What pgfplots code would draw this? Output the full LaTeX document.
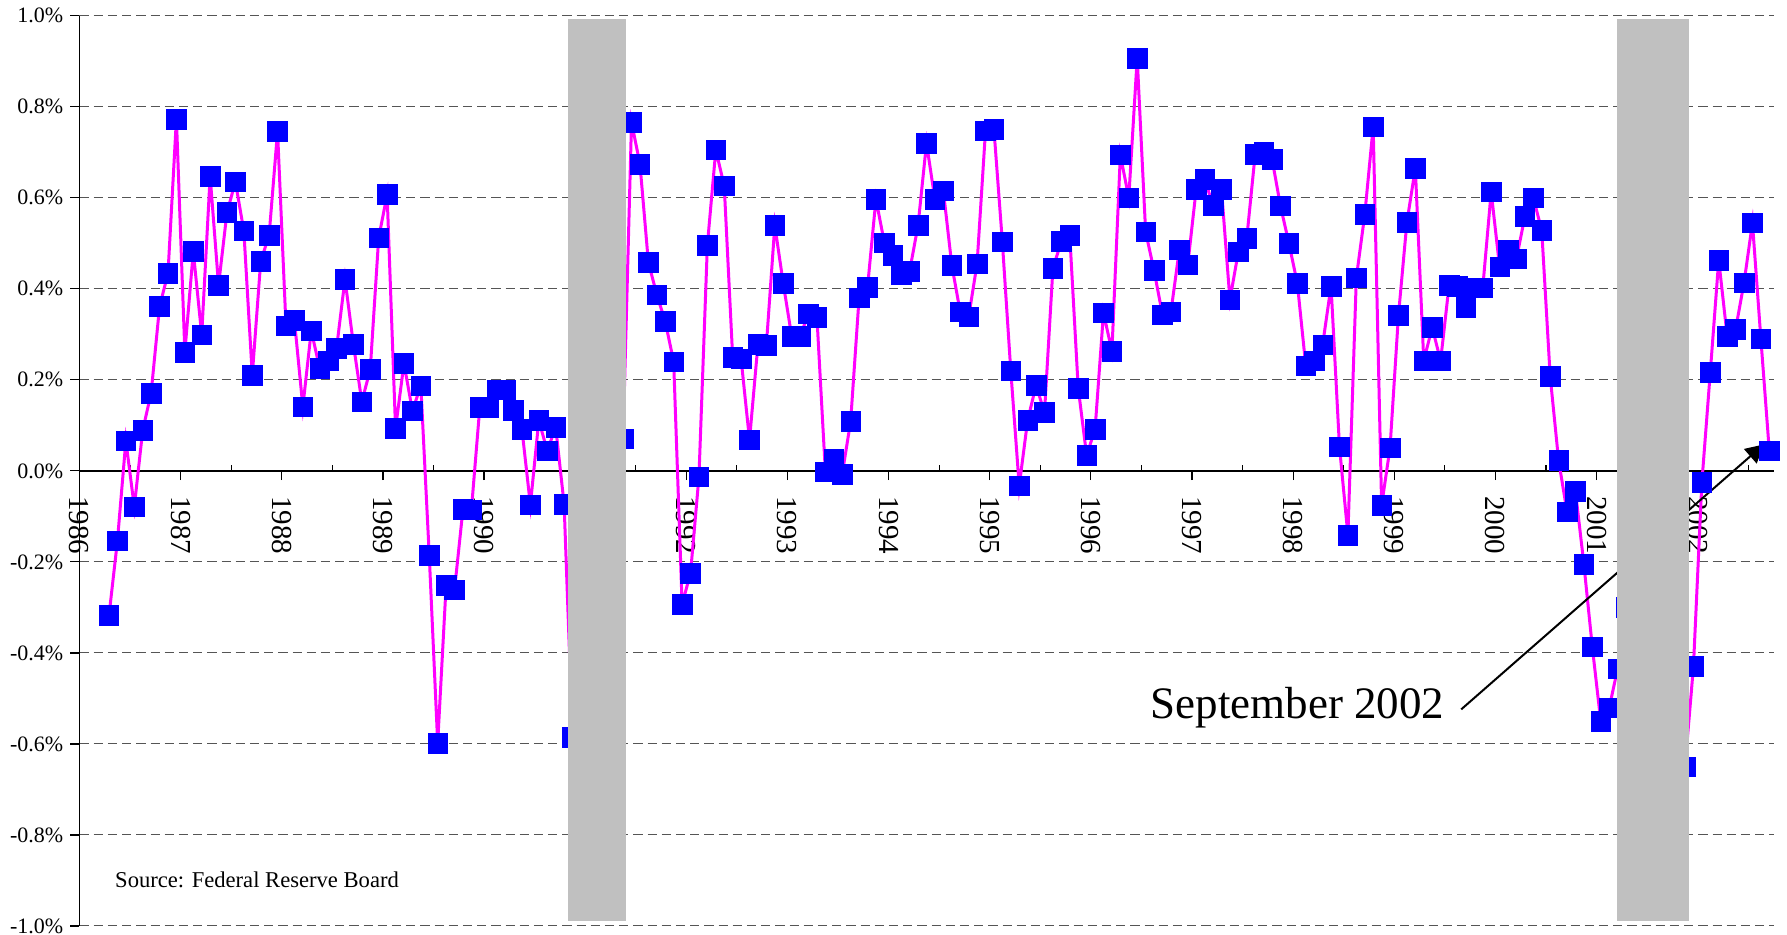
\documentclass[border=0pt]{standalone}
\usepackage{fontspec}
\setmainfont{Liberation Serif}
\usepackage{pgfplots}
\pgfplotsset{compat=1.18}
\usetikzlibrary{arrows.meta}

\definecolor{recession}{RGB}{192,192,192}
\definecolor{gridgray}{RGB}{85,85,85}
\definecolor{linemag}{RGB}{255,0,255}
\definecolor{markblue}{RGB}{0,0,255}

\begin{document}
\begin{tikzpicture}
\begin{axis}[
    scale only axis,
    width=847pt, height=455.15pt,
    xmin=0, xmax=201, ymin=-1, ymax=1,
    clip=false,
    axis x line=middle, axis y line=left,
    axis line style={-, line width=0.7pt, black},
    hide obscured x ticks=false, hide obscured y ticks=false,
    tick align=outside,
    major tick length=4.6pt, minor tick length=2.9pt,
    tick style={black, line width=0.6pt},
    minor x tick style={yshift=2.9pt},
    xtick={0,12,24,36,48,60,72,84,96,108,120,132,144,156,168,180,192},
    xticklabels={1986,1987,1988,1989,1990,1991,1992,1993,1994,1995,1996,1997,1998,1999,2000,2001,2002},
    minor xtick={6,18,30,42,54,66,78,90,102,114,126,138,150,162,174,186,198},
    xticklabel shift=8pt,
    xticklabel style={rotate=-90, anchor=west, inner sep=0pt, font=\fontsize{14.5}{16}\selectfont},
    ytick={-1,-0.8,-0.6,-0.4,-0.2,0,0.2,0.4,0.6,0.8,1},
    yticklabels={-1.0\%,-0.8\%,-0.6\%,-0.4\%,-0.2\%,0.0\%,0.2\%,0.4\%,0.6\%,0.8\%,1.0\%},
    yticklabel style={font=\fontsize{11}{13}\selectfont},
    ymajorgrids,
    major grid style={gridgray, line width=0.5pt, dash pattern=on 4.6pt off 2.5pt},
]

% monthly change, Apr 1986 - Sep 2002; x = month index + 0.5 (Jan 1986 = 0)
\addplot[linemag, line width=1.5pt, mark=square*, mark size=4.9pt,
         mark options={fill=markblue, draw=markblue, line width=0.3pt, solid}]
coordinates {
(3.5,-0.318) (4.5,-0.154) (5.5,0.066) (6.5,-0.079) (7.5,0.089) (8.5,0.171)
(9.5,0.361) (10.5,0.434) (11.5,0.773) (12.5,0.261) (13.5,0.482) (14.5,0.299)
(15.5,0.647) (16.5,0.408) (17.5,0.568) (18.5,0.635) (19.5,0.527) (20.5,0.210)
(21.5,0.460) (22.5,0.518) (23.5,0.746) (24.5,0.319) (25.5,0.331) (26.5,0.141)
(27.5,0.308) (28.5,0.225) (29.5,0.242) (30.5,0.269) (31.5,0.421) (32.5,0.278)
(33.5,0.152) (34.5,0.223) (35.5,0.512) (36.5,0.607) (37.5,0.093) (38.5,0.236)
(39.5,0.132) (40.5,0.187) (41.5,-0.186) (42.5,-0.598) (43.5,-0.252) (44.5,-0.261)
(45.5,-0.084) (46.5,-0.086) (47.5,0.140) (48.5,0.139) (49.5,0.178) (50.5,0.178)
(51.5,0.133) (52.5,0.091) (53.5,-0.075) (54.5,0.111) (55.5,0.044) (56.5,0.096)
(57.5,-0.073) (58.5,-0.585) (59.5,-0.35) (60.5,-0.20) (61.5,-0.30) (62.5,0.05)
(63.5,0.15) (64.5,0.070) (65.5,0.766) (66.5,0.674) (67.5,0.458) (68.5,0.387)
(69.5,0.328) (70.5,0.240) (71.5,-0.293) (72.5,-0.225) (73.5,-0.013) (74.5,0.496)
(75.5,0.705) (76.5,0.626) (77.5,0.250) (78.5,0.246) (79.5,0.068) (80.5,0.278)
(81.5,0.276) (82.5,0.539) (83.5,0.412) (84.5,0.296) (85.5,0.296) (86.5,0.345)
(87.5,0.337) (88.5,-0.002) (89.5,0.025) (90.5,-0.007) (91.5,0.109) (92.5,0.380)
(93.5,0.403) (94.5,0.597) (95.5,0.501) (96.5,0.474) (97.5,0.432) (98.5,0.439)
(99.5,0.540) (100.5,0.720) (101.5,0.596) (102.5,0.615) (103.5,0.452) (104.5,0.349)
(105.5,0.338) (106.5,0.455) (107.5,0.747) (108.5,0.751) (109.5,0.503) (110.5,0.220)
(111.5,-0.033) (112.5,0.111) (113.5,0.188) (114.5,0.128) (115.5,0.445) (116.5,0.504)
(117.5,0.517) (118.5,0.182) (119.5,0.034) (120.5,0.091) (121.5,0.347) (122.5,0.263)
(123.5,0.694) (124.5,0.600) (125.5,0.907) (126.5,0.525) (127.5,0.440) (128.5,0.343)
(129.5,0.349) (130.5,0.486) (131.5,0.453) (132.5,0.619) (133.5,0.640) (134.5,0.584)
(135.5,0.619) (136.5,0.376) (137.5,0.481) (138.5,0.511) (139.5,0.696) (140.5,0.700)
(141.5,0.685) (142.5,0.582) (143.5,0.500) (144.5,0.412) (145.5,0.231) (146.5,0.242)
(147.5,0.277) (148.5,0.406) (149.5,0.053) (150.5,-0.141) (151.5,0.424) (152.5,0.563)
(153.5,0.756) (154.5,-0.076) (155.5,0.051) (156.5,0.342) (157.5,0.546) (158.5,0.665)
(159.5,0.242) (160.5,0.315) (161.5,0.242) (162.5,0.407) (163.5,0.405) (164.5,0.359)
(165.5,0.402) (166.5,0.402) (167.5,0.613) (168.5,0.448) (169.5,0.486) (170.5,0.466)
(171.5,0.559) (172.5,0.600) (173.5,0.528) (174.5,0.208) (175.5,0.023) (176.5,-0.090)
(177.5,-0.045) (178.5,-0.205) (179.5,-0.387) (180.5,-0.550) (181.5,-0.521) (182.5,-0.435)
(183.5,-0.30) (184.5,-0.45) (185.5,-0.20) (186.5,-0.35) (187.5,-0.55) (188.5,-0.40)
(189.5,-0.60) (190.5,-0.650) (191.5,-0.430) (192.5,-0.025) (193.5,0.217) (194.5,0.463)
(195.5,0.296) (196.5,0.311) (197.5,0.413) (198.5,0.545) (199.5,0.290) (200.5,0.044)
};

\node[anchor=base west, inner sep=0pt, font=\fontsize{11.3}{13}\selectfont] at (axis cs:4.19,-0.9165) {Source: Federal Reserve Board};
\node[anchor=base east, inner sep=0pt, font=\fontsize{22.5}{26}\selectfont] at (axis cs:161.98,-0.544) {September 2002};
\draw[black, line width=1pt, -{Triangle[length=9pt, width=9.5pt]}] (axis cs:163.95,-0.524) -- (axis cs:199.85,0.058);

% recession shading corners, filled after the axis so it covers everything
\coordinate (r1a) at (axis cs:57.95,-0.988);
\coordinate (r1b) at (axis cs:64.87,0.993);
\coordinate (r2a) at (axis cs:182.4,-0.988);
\coordinate (r2b) at (axis cs:191.0,0.993);
\coordinate (origin) at (rel axis cs:0,0);
\end{axis}
\fill[recession] (r1a) rectangle (r1b);
\fill[recession] (r2a) rectangle (r2b);
\pgfresetboundingbox
\path[use as bounding box] ([xshift=-39.75pt,yshift=-4.5pt]origin) rectangle ([xshift=853.75pt,yshift=463pt]origin);
\end{tikzpicture}
\end{document}
